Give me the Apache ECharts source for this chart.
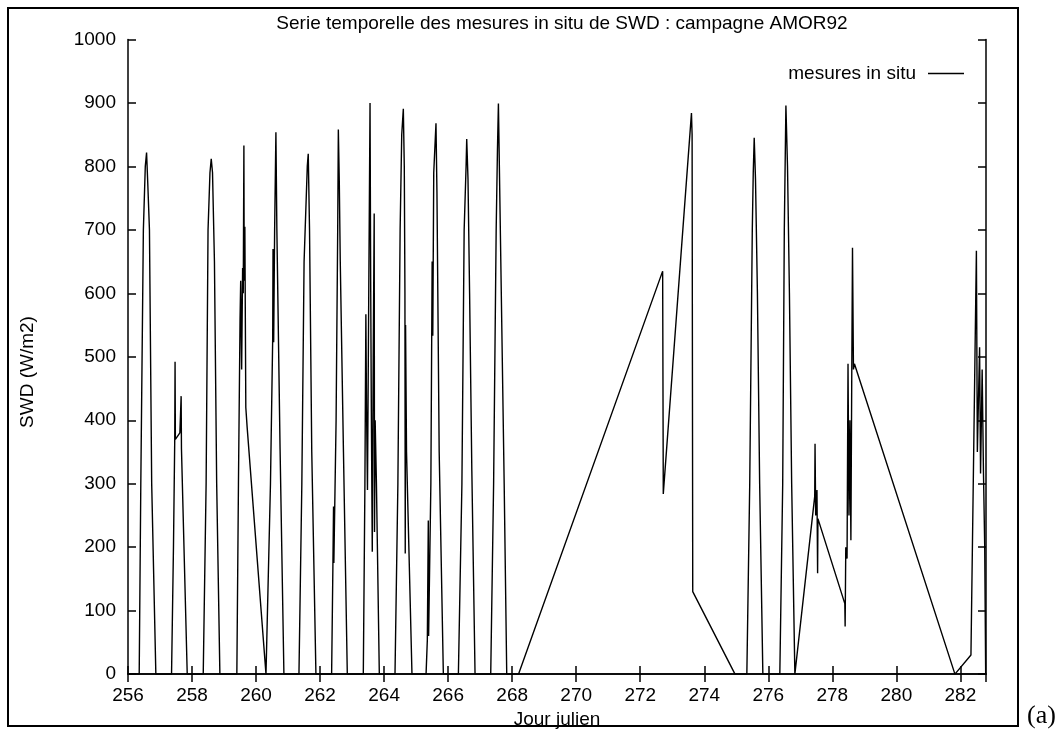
<!DOCTYPE html>
<html>
<head>
<meta charset="utf-8">
<script src="https://cdn.jsdelivr.net/npm/echarts@6/dist/echarts.min.js"></script>
<style>
  html, body { margin: 0; padding: 0; background: #fff; }
  #chart { width: 1061px; height: 734px; }
</style>
</head>
<body>
<div id="chart"></div>
<script>
// jour julien (x) et SWD en W/m2 (y)
const jour = [
  256.00, 256.35, 256.40, 256.48, 256.54, 256.58, 256.62, 256.67, 256.74, 256.87,
  257.36, 257.42, 257.46, 257.47, 257.48, 257.62, 257.66, 257.67, 257.85,
  258.35, 258.44, 258.50, 258.56, 258.60, 258.64, 258.70, 258.77, 258.87,
  259.40, 259.45, 259.50, 259.52, 259.55, 259.58, 259.60, 259.62, 259.63, 259.65, 259.68, 259.72,
  260.31, 260.34, 260.45, 260.52, 260.53, 260.55, 260.58, 260.62, 260.65, 260.75, 260.87,
  261.34, 261.43, 261.50, 261.60, 261.63, 261.67, 261.74, 261.87,
  262.36, 262.40, 262.42, 262.43, 262.50, 262.55, 262.57, 262.60, 262.63, 262.73, 262.85,
  263.35, 263.40, 263.43, 263.45, 263.48, 263.52, 263.56, 263.58, 263.60, 263.63, 263.66, 263.69, 263.70, 263.72, 263.76, 263.85,
  264.34, 264.43, 264.50, 264.55, 264.60, 264.63, 264.65, 264.66, 264.67, 264.70, 264.87,
  265.31, 265.35, 265.38, 265.39, 265.46, 265.50, 265.52, 265.55, 265.62, 265.65, 265.72, 265.85,
  266.32, 266.43, 266.50, 266.56, 266.58, 266.62, 266.67, 266.74, 266.84,
  267.33, 267.42, 267.50, 267.54, 267.57, 267.60, 267.66, 267.75, 267.83,
  268.20, 272.70, 272.72, 273.60, 273.62, 273.64, 274.96,
  275.33, 275.42, 275.50, 275.53, 275.56, 275.60, 275.66, 275.73, 275.83,
  276.36, 276.45, 276.50, 276.55, 276.60, 276.66, 276.73, 276.83,
  277.45, 277.46, 277.48, 277.52, 277.54, 277.55,
  278.39, 278.40, 278.42, 278.46, 278.49, 278.52, 278.55, 278.58, 278.61, 278.63, 278.66, 278.69,
  281.83, 282.33, 282.50, 282.53, 282.60, 282.63, 282.68, 282.72, 282.76, 282.79
];
const swd = [
  0, 0, 300, 700, 800, 822, 770, 700, 300, 0,
  0, 200, 370, 492, 370, 380, 438, 355, 0,
  0, 300, 700, 790, 812, 790, 650, 300, 0,
  0, 300, 560, 620, 480, 640, 600, 833, 620, 705, 420, 390,
  0, 0, 300, 530, 670, 523, 700, 854, 700, 355, 0,
  0, 300, 650, 800, 820, 700, 350, 0,
  0, 170, 264, 175, 400, 700, 858, 775, 650, 350, 0,
  0, 300, 567, 420, 290, 600, 900, 620, 420, 193, 500, 726, 224, 400, 300, 0,
  0, 300, 700, 850, 891, 800, 600, 190, 550, 350, 0,
  0, 54, 242, 60, 300, 650, 533, 790, 868, 760, 350, 0,
  0, 300, 700, 800, 843, 780, 600, 320, 0,
  0, 300, 700, 826, 899, 800, 600, 300, 0,
  0, 635, 284, 884, 850, 130, 0,
  0, 300, 700, 790, 845, 780, 600, 300, 0,
  0, 300, 700, 896, 800, 600, 300, 0,
  280, 363, 250, 290, 159, 245,
  111, 75, 200, 182, 489, 250, 400, 211, 500, 672, 480, 489,
  0, 30, 667, 350, 515, 316, 480, 320, 200, 0
];

const font = 'Liberation Sans, Arial, sans-serif';
const chart = echarts.init(document.getElementById('chart'));

const tickLbl = { color: '#000', fontFamily: font, fontSize: 19 };

chart.setOption({
  animation: false,
  backgroundColor: '#fff',
  title: {
    text: 'Serie temporelle des mesures in situ de SWD : campagne AMOR92',
    left: 557, top: 9, textAlign: 'center',
    textStyle: { color: '#000', fontFamily: font, fontSize: 19, fontWeight: 'normal' }
  },
  legend: {
    right: 92, top: 59,
    align: 'right',
    itemWidth: 36, itemHeight: 1.5,
    data: [{ name: 'mesures in situ', icon: 'rect' }],
    textStyle: { color: '#000', fontFamily: font, fontSize: 19, padding: [0, 7, 0, 0] }
  },
  grid: { left: 128, right: 75, top: 39.5, bottom: 58 },
  xAxis: [
    {
      type: 'value', min: 256, max: 282.8, interval: 2,
      name: 'Jour julien', nameLocation: 'middle', nameGap: 33,
      nameTextStyle: tickLbl,
      axisLine: { lineStyle: { color: '#000', width: 1.5 } },
      axisTick: { inside: true, length: 8, lineStyle: { color: '#000', width: 1.5 } },
      axisLabel: Object.assign({ margin: 12, showMaxLabel: false,
        formatter: v => (v % 2 === 0 ? String(v) : '') }, tickLbl),
      splitLine: { show: false }
    },
    {
      type: 'value', position: 'top', min: 256, max: 282.8, interval: 2,
      axisLine: { lineStyle: { color: '#000', width: 1.5 } },
      axisTick: { inside: true, length: 8, lineStyle: { color: '#000', width: 1.5 } },
      axisLabel: { show: false },
      splitLine: { show: false }
    }
  ],
  yAxis: [
    {
      type: 'value', min: 0, max: 1000, interval: 100,
      axisLine: { show: true, lineStyle: { color: '#000', width: 1.5 } },
      axisTick: { show: true, inside: true, length: 8, lineStyle: { color: '#000', width: 1.5 } },
      axisLabel: Object.assign({ margin: 12, formatter: v => String(v) }, tickLbl),
      splitLine: { show: false }
    },
    {
      type: 'value', position: 'right', min: 0, max: 1000, interval: 100,
      axisLine: { show: true, lineStyle: { color: '#000', width: 1.5 } },
      axisTick: { show: true, inside: true, length: 8, lineStyle: { color: '#000', width: 1.5 } },
      axisLabel: { show: false },
      splitLine: { show: false }
    }
  ],
  series: [{
    name: 'mesures in situ',
    type: 'line',
    xAxisIndex: 0, yAxisIndex: 0,
    symbol: 'none',
    color: '#000',
    lineStyle: { color: '#000', width: 1.4 },
    data: jour.map((x, i) => [x, swd[i]])
  }],
  graphic: [
    {
      type: 'rect', silent: true,
      shape: { x: 8, y: 8, width: 1010, height: 718 },
      style: { fill: 'none', stroke: '#000', lineWidth: 2 }
    },
    {
      type: 'text', x: 28, y: 372, rotation: Math.PI / 2,
      style: { text: 'SWD (W/m2)', fill: '#000', font: '19px ' + font,
        textAlign: 'center', textVerticalAlign: 'middle' }
    },
    {
      type: 'text', left: 1027, top: 703,
      style: { text: '(a)', fill: '#000', font: '26px "Liberation Serif", "Times New Roman", serif' }
    }
  ]
});
</script>
</body>
</html>
